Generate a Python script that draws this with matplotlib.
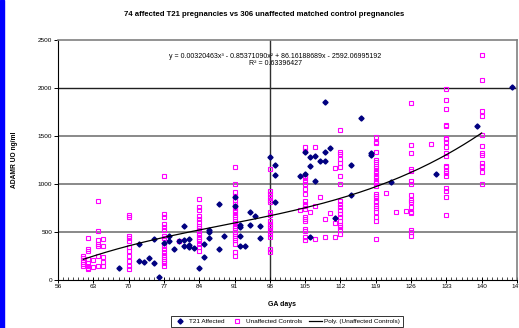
import matplotlib
matplotlib.use("Agg")
import matplotlib.pyplot as plt
import numpy as np
from matplotlib.ticker import MultipleLocator
from matplotlib.lines import Line2D
from matplotlib.patches import Rectangle

plt.rcParams['font.family'] = ['Liberation Sans', 'DejaVu Sans']

# T21 affected pregnancies (GA day, ADAM12 value)
t21_days = [68, 72, 72, 73, 74, 75, 75, 76, 77, 78, 78, 79, 80,
            81, 81, 81, 82, 82, 82, 83, 84, 85, 85, 86, 86, 86,
            88, 88, 89, 91, 91, 92, 92, 92, 92, 93, 94, 94, 95, 96, 96,
            98, 99, 99, 99, 104, 105, 105, 106, 106, 106, 107, 107, 108,
            109, 109, 109, 110, 111, 114, 114, 116, 118, 118, 122, 131, 139, 146]
t21_vals = [123, 376, 196, 189, 231, 428, 175, 30, 387, 463, 404, 324, 407,
            564, 418, 349, 428, 369, 342, 335, 127, 376, 238, 526, 498, 439,
            793, 324, 463, 862, 775, 578, 557, 463, 349, 352, 706, 578, 665, 564, 439,
            1279, 1202, 1091, 817, 1088, 1338, 1105, 1279, 1185, 453, 1296, 1036, 1237,
            1849, 1331, 1237, 1370, 651, 1202, 890, 1683, 1320, 1306, 1018, 1105, 1606, 2013]

# unaffected matched controls
ctrl_days = ([61] * 5 + [62] * 8 + [63] * 2 + [64] * 7 + [65] * 5 + [70] * 11 + [77] * 17
             + [80] + [84] * 16 + [91] * 24 + [98] * 17 + [104] + [105] * 19 + [106]
             + [107] * 3 + [108] + [109] * 2 + [110] + [111] * 3 + [112] * 19 + [119] * 26
             + [121] + [123] + [125] + [126] * 16 + [130] + [133] * 20 + [140] * 13)
ctrl_vals = [245, 231, 186, 162, 141,
             439, 324, 307, 220, 175, 151, 127, 116,
             210, 134,
             828, 515, 418, 376, 359, 245, 151,
             422, 352, 238, 186, 141,
             682, 654, 463, 439, 411, 342, 307, 245, 203, 151, 116,
             1081, 689, 661, 585, 550, 526, 463, 439, 359, 324, 290, 265, 238, 220, 203, 175, 141,
             404,
             845, 758, 724, 671, 637, 602, 567, 543, 515, 481, 453, 428, 404, 376, 342, 307,
             1175, 1001, 915, 880, 835, 793, 758, 730, 706, 682, 661, 619, 591, 567, 543, 522,
             498, 481, 463, 439, 418, 370, 290, 255,
             1157, 925, 897, 862, 835, 810, 706, 682, 619, 585, 567, 543, 515, 481, 453, 324, 290,
             730,
             1388, 1348, 1088, 1063, 1036, 1001, 949, 897, 828, 793, 775, 741, 654, 637, 619,
             533, 515, 453, 418,
             706,
             1388, 775, 428,
             862,
             637, 453,
             696,
             1168, 591, 453,
             1561, 1334, 1310, 1258, 1223, 1175, 1088, 1001, 828, 793, 758, 724, 689, 654, 619,
             578, 550, 522, 481,
             1492, 1440, 1422, 1331, 1251, 1227, 1192, 1168, 1140, 1112, 1088, 1063, 1036, 1008,
             984, 897, 880, 855, 828, 810, 776, 751, 706, 661, 613, 428,
             907,
             706,
             717,
             1839, 1405, 1328, 1157, 1133, 1029, 1001, 890, 835, 810, 765, 706, 696, 526, 505, 463,
             1412,
             1988, 1874, 1780, 1613, 1606, 1481, 1464, 1440, 1388, 1318, 1289, 1192, 1182, 1140,
             1112, 1088, 959, 932, 862, 682,
             2342, 2082, 1760, 1711, 1509, 1398, 1318, 1300, 1220, 1192, 1182, 1123, 1001]

# Excel polynomial trendline coefficients (on controls)
poly_coef = [0.00320463, -0.85371090, 86.16188689, -2592.06995192]

fig = plt.figure(figsize=(5.19, 3.28), dpi=100)
fig.patches.append(Rectangle((0, 0), 4 / 519, 1, transform=fig.transFigure,
                             color='#0000ff', zorder=0))
ax = fig.add_axes([58 / 519, 1 - 280 / 328, 459 / 519, 240 / 328])

for v in [500, 1000, 1500]:
    ax.axhline(v, color='#808080', lw=1.3, zorder=1)
ax.axhline(2000, color='#202020', lw=1.0, zorder=1)
ax.axvline(98, color='#303030', lw=1.0, zorder=1)

ax.plot(t21_days, t21_vals, ls='none', marker='D', ms=2.6, color='#000080',
        zorder=4, label='T21 Affected')
ax.plot(ctrl_days, ctrl_vals, ls='none', marker='s', ms=2.4, mfc='none', mec='#ff00ff',
        mew=0.8, zorder=3, label='Unaffected Controls')
xs = np.linspace(min(ctrl_days), max(ctrl_days), 200)
ax.plot(xs, np.polyval(poly_coef, xs), color='black', lw=0.9, zorder=5,
        label='Poly. (Unaffected Controls)')

ax.set_xlim(56, 147)
ax.set_ylim(0, 2500)
ax.xaxis.set_major_locator(MultipleLocator(7))
ax.xaxis.set_minor_locator(MultipleLocator(1))
ax.yaxis.set_major_locator(MultipleLocator(500))
ax.tick_params(axis='x', which='major', direction='inout', length=4, width=0.7,
               labelsize=4.6, pad=1)
ax.tick_params(axis='x', which='minor', direction='in', length=2, width=0.5)
ax.tick_params(axis='y', which='major', direction='out', length=3, width=0.7,
               labelsize=4.6, pad=1)
for s in ['top', 'right']:
    ax.spines[s].set_color('#808080')
    ax.spines[s].set_linewidth(1.2)
for s in ['left', 'bottom']:
    ax.spines[s].set_color('black')
    ax.spines[s].set_linewidth(0.8)

ax.text(0.473, 0.933, 'y = 0.00320463x³ - 0.85371090x² + 86.16188689x - 2592.06995192',
        transform=ax.transAxes, ha='center', va='center', fontsize=5.0)
ax.text(0.473, 0.902, 'R² = 0.63396427', transform=ax.transAxes,
        ha='center', va='center', fontsize=5.0)

fig.text(264 / 519, 1 - 15 / 328,
         '74 affected T21 pregnancies vs 306 unaffected matched control pregnancies',
         ha='center', va='center', fontsize=5.6, fontweight='bold')
fig.text(282 / 519, 1 - 304 / 328, 'GA days', ha='center', va='center',
         fontsize=5.0, fontweight='bold')
fig.text(14 / 519, 1 - 160 / 328, 'ADAMR UO ng/ml', ha='center', va='center',
         rotation=90, fontsize=4.8, fontweight='bold')

handles = [Line2D([], [], ls='none', marker='D', ms=2.6, color='#000080'),
           Line2D([], [], ls='none', marker='s', ms=2.4, mfc='none', mec='#ff00ff', mew=0.8),
           Line2D([], [], color='black', lw=0.9)]
labels = ['T21 Affected', 'Unaffected Controls', 'Poly. (Unaffected Controls)']
leg = fig.legend(handles, labels, loc='center', bbox_to_anchor=(287 / 519, 1 - 321.5 / 328),
                 ncol=3, fontsize=4.6, frameon=True, fancybox=False, borderpad=0.4,
                 handlelength=2.0, handletextpad=0.4, columnspacing=1.0)
leg.get_frame().set_edgecolor('black')
leg.get_frame().set_linewidth(0.7)

fig.savefig('out.png', dpi=100)
